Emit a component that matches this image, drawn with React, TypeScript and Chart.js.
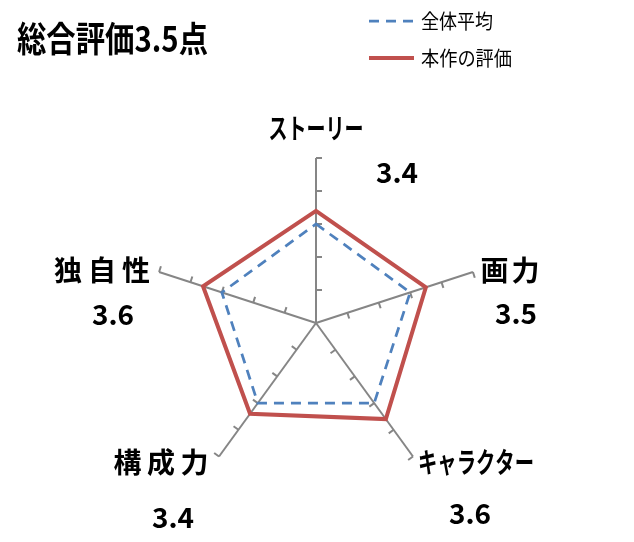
import { useEffect, useRef } from 'react';
import { Chart, ChartConfiguration, Plugin, registerables } from 'chart.js';

Chart.register(...registerables);

const TITLE = '総合評価3.5点';
const CATEGORIES = ['ストーリー', '画力', 'キャラクター', '構成力', '独自性'];
const SERIES_NAMES = ['全体平均', '本作の評価'];
const AVERAGE = [3.0, 3.0, 3.0, 3.0, 3.0];
const OURS = [3.4, 3.5, 3.6, 3.4, 3.6];
const SCALE_MAX = 5;
const SCALE_TICKS = [1, 2, 3, 4, 5];

// where the axis labels sit, relative to the end of their axis
const NAME_OFFSETS = [[0, -30], [37, -2], [63, 6], [-58, 6], [-57, -2]];
const NAME_WIDTHS = [95, 59, 116, 95, 96];
const VALUE_OFFSETS = [[81, 14], [43, 41], [57, 57], [-46, 61], [-46, 42]];

const FONT = '"Noto Sans CJK JP", "Noto Sans", sans-serif';
const AXIS_COLOR = '#868686';

function fitText(ctx: CanvasRenderingContext2D, text: string, cx: number, cy: number, width: number) {
  const natural = ctx.measureText(text).width;
  ctx.textBaseline = 'middle';
  if (natural >= width) {
    ctx.textAlign = 'center';
    ctx.fillText(text, cx, cy, width);
    return;
  }
  const chars = Array.from(text).length;
  const gap = chars > 1 ? (width - natural) / (chars - 1) : 0;
  ctx.textAlign = 'left';
  (ctx as any).letterSpacing = `${gap}px`;
  ctx.fillText(text, cx - width / 2, cy);
  (ctx as any).letterSpacing = '0px';
}

const axisTicks: Plugin<'radar'> = {
  id: 'axisTicks',
  beforeDatasetsDraw(chart) {
    const scale: any = chart.scales.r;
    const ctx = chart.ctx;
    ctx.save();
    ctx.strokeStyle = AXIS_COLOR;
    ctx.lineWidth = 2;
    CATEGORIES.forEach((_, i) => {
      const end = scale.getPointPositionForValue(i, SCALE_MAX);
      const dx = end.x - scale.xCenter;
      const dy = end.y - scale.yCenter;
      const len = Math.hypot(dx, dy);
      const px = (-dy / len) * 6;
      const py = (dx / len) * 6;
      SCALE_TICKS.forEach((v) => {
        const p = scale.getPointPositionForValue(i, v);
        ctx.beginPath();
        ctx.moveTo(p.x, p.y);
        ctx.lineTo(p.x + px, p.y + py);
        ctx.stroke();
      });
    });
    ctx.restore();
  }
};

const annotations: Plugin<'radar'> = {
  id: 'annotations',
  afterDraw(chart) {
    const scale: any = chart.scales.r;
    const ctx = chart.ctx;
    ctx.save();
    ctx.fillStyle = '#000';

    ctx.font = `bold 35px ${FONT}`;
    ctx.textAlign = 'left';
    ctx.textBaseline = 'middle';
    ctx.fillText(TITLE, 9, 31, 191);

    CATEGORIES.forEach((name, i) => {
      const end = scale.getPointPositionForValue(i, SCALE_MAX);
      ctx.font = `bold 28px ${FONT}`;
      fitText(ctx, name, end.x + NAME_OFFSETS[i][0], end.y + NAME_OFFSETS[i][1], NAME_WIDTHS[i]);
      ctx.font = `bold 28px ${FONT}`;
      ctx.textAlign = 'center';
      ctx.textBaseline = 'middle';
      ctx.fillText(OURS[i].toFixed(1), end.x + VALUE_OFFSETS[i][0], end.y + VALUE_OFFSETS[i][1], 42);
    });

    const legendWidths = [72, 91];
    chart.data.datasets.forEach((ds: any, i) => {
      const y = 13 + i * 37;
      ctx.beginPath();
      ctx.strokeStyle = ds.borderColor;
      ctx.lineWidth = ds.borderWidth;
      ctx.setLineDash(ds.borderDash || []);
      ctx.moveTo(361, y);
      ctx.lineTo(406, y);
      ctx.stroke();
      ctx.setLineDash([]);
      ctx.fillStyle = '#000';
      ctx.font = `20px ${FONT}`;
      fitText(ctx, ds.label, 413 + legendWidths[i] / 2, y, legendWidths[i]);
    });
    ctx.restore();
  }
};

export default function App() {
  const canvasRef = useRef<HTMLCanvasElement | null>(null);

  useEffect(() => {
    if (!canvasRef.current) {
      return;
    }
    const config: ChartConfiguration<'radar', number[], string> = {
      type: 'radar',
      data: {
        labels: CATEGORIES,
        datasets: [
          {
            label: SERIES_NAMES[0],
            data: AVERAGE,
            borderColor: '#4F81BD',
            borderWidth: 2.75,
            borderDash: [10, 7],
            fill: false,
            pointRadius: 0,
            order: 1
          },
          {
            label: SERIES_NAMES[1],
            data: OURS,
            borderColor: '#C0504D',
            borderWidth: 4,
            fill: false,
            pointRadius: 0,
            order: 0
          }
        ]
      },
      options: {
        responsive: true,
        maintainAspectRatio: false,
        animation: false,
        layout: {
          padding: { left: 143, right: 145, top: 150, bottom: 46 }
        },
        scales: {
          r: {
            min: 0,
            max: SCALE_MAX,
            ticks: { display: false, stepSize: 1 },
            grid: { display: false },
            angleLines: { display: true, color: AXIS_COLOR, lineWidth: 2 },
            pointLabels: { display: false }
          }
        },
        plugins: {
          legend: { display: false },
          tooltip: { enabled: false }
        }
      },
      plugins: [axisTicks, annotations]
    };
    const chart = new Chart(canvasRef.current, config);
    return () => {
      chart.destroy();
    };
  }, []);

  return (
    <div style={{ width: '618px', height: '526px', position: 'relative' }}>
      <canvas ref={canvasRef} aria-label={TITLE} role="img" />
    </div>
  );
}
